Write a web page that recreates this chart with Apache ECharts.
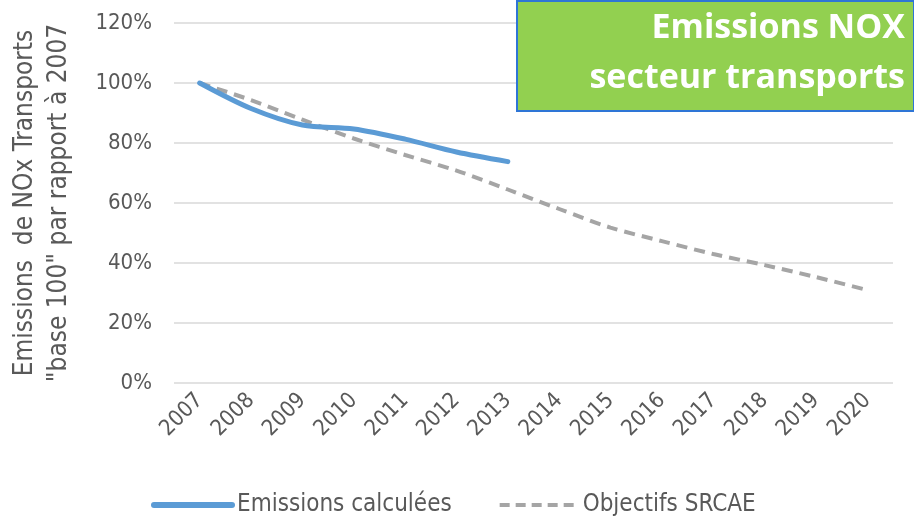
<!DOCTYPE html>
<html>
<head>
<meta charset="utf-8">
<script src="https://cdn.jsdelivr.net/npm/echarts@6/dist/echarts.min.js"></script>
<style>
  html, body { margin: 0; padding: 0; background: #fff; }
  #chart { width: 914px; height: 523px; }
</style>
</head>
<body>
<div id="chart"></div>
<script>
// years on the x axis
const years = ["2007", "2008", "2009", "2010", "2011", "2012", "2013",
  "2014", "2015", "2016", "2017", "2018", "2019", "2020"];
// base 100 in 2007, values in %
const emissionsCalculees = [100, 91.5, 86, 84.7, 81.3, 77, 73.8];
const objectifsSrcae = [100, 94.3, 87.8, 81.5, 76, 70.8, 64.5, 58, 51.8, 47.3, 43, 39.3, 35.3, 31];

const grey = "#595959";
const font = "'DejaVu Sans Condensed', sans-serif";

const chart = echarts.init(document.getElementById("chart"));
chart.setOption({
  animation: false,
  grid: { left: 172, right: 21, top: 23, bottom: 140 },
  xAxis: {
    type: "category",
    data: years,
    boundaryGap: true,
    axisLine: { show: false },
    axisTick: { show: false },
    axisLabel: {
      rotate: 45,
      color: grey,
      fontSize: 22,
      fontFamily: font,
      margin: 14
    }
  },
  yAxis: {
    type: "value",
    min: 0,
    max: 120,
    interval: 20,
    name: 'Emissions  de NOx Transports\n"base 100" par rapport à 2007',
    nameLocation: "middle",
    nameGap: 98,
    nameTextStyle: { color: grey, fontSize: 26, fontFamily: font, lineHeight: 34 },
    axisLine: { show: false },
    axisTick: { show: false },
    axisLabel: {
      formatter: "{value}%",
      color: grey,
      fontSize: 22,
      fontFamily: font,
      margin: 22
    },
    splitLine: { lineStyle: { color: "#d9d9d9", width: 1.5 } }
  },
  legend: {
    bottom: 1,
    left: 146,
    itemWidth: 78,
    itemHeight: 14,
    itemGap: 46,
    itemStyle: { opacity: 0 },
    textStyle: { color: grey, fontSize: 24, fontFamily: font },
    data: [
      { name: "Emissions calculées", lineStyle: { width: 6, color: "#5B9BD5" } },
      { name: "Objectifs SRCAE", lineStyle: { width: 4, color: "#A5A5A5", type: [10, 6] } }
    ]
  },
  series: [
    {
      name: "Emissions calculées",
      type: "line",
      data: emissionsCalculees,
      smooth: 0.3,
      symbol: "none",
      z: 3,
      lineStyle: { color: "#5B9BD5", width: 5, cap: "round" },
      itemStyle: { color: "#5B9BD5" }
    },
    {
      name: "Objectifs SRCAE",
      type: "line",
      data: objectifsSrcae,
      smooth: 0.3,
      symbol: "none",
      z: 2,
      lineStyle: { color: "#A5A5A5", width: 4, type: [11, 7] },
      itemStyle: { color: "#A5A5A5" }
    }
  ],
  graphic: [
    {
      type: "rect",
      left: 516,
      top: 0,
      shape: { width: 397, height: 110 },
      style: { fill: "#92D050", stroke: "#2E75D6", lineWidth: 2 },
      z: 10
    },
    {
      type: "text",
      x: 905,
      y: 3,
      style: {
        text: "Emissions NOX\nsecteur transports",
        fill: "#fff",
        font: "bold 34px 'Open Sans', sans-serif",
        align: "right",
        verticalAlign: "top",
        lineHeight: 50
      },
      z: 11
    }
  ]
});
</script>
</body>
</html>
